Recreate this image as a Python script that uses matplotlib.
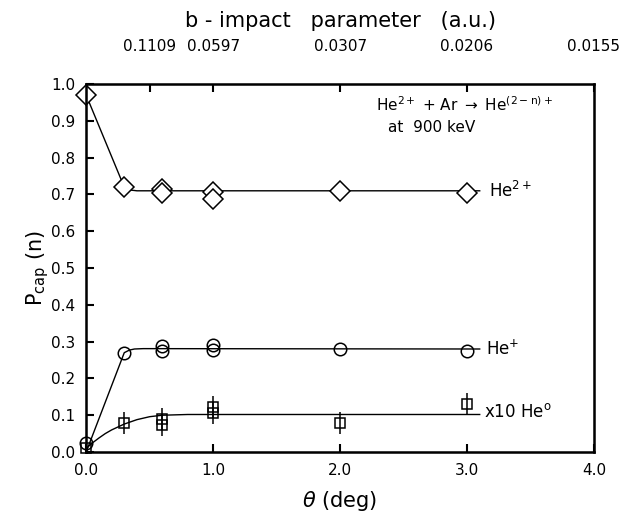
import numpy as np
import matplotlib.pyplot as plt

# measured points (theta in deg)
theta_he2 = [0.0, 0.3, 0.6, 0.6, 1.0, 1.0, 2.0, 3.0]
p_he2 = [0.97, 0.72, 0.716, 0.703, 0.708, 0.689, 0.71, 0.705]

theta_he1 = [0.0, 0.3, 0.6, 0.6, 1.0, 1.0, 2.0, 3.0]
p_he1 = [0.025, 0.27, 0.287, 0.274, 0.292, 0.278, 0.28, 0.275]

theta_he0 = [0.0, 0.3, 0.6, 0.6, 1.0, 1.0, 2.0, 3.0]
p_he0 = [0.01, 0.08, 0.09, 0.074, 0.122, 0.105, 0.08, 0.13]
err_he0 = [0.0, 0.03, 0.03, 0.03, 0.03, 0.03, 0.03, 0.03]

# hand drawn guide curves
fit_theta_he2 = [0.0, 0.3, 0.35, 0.4, 3.1]
fit_he2 = [0.97, 0.72, 0.712, 0.71, 0.71]
fit_theta_he1 = [0.0, 0.3, 0.34, 0.38, 0.45, 3.1]
fit_he1 = [0.0, 0.27, 0.277, 0.28, 0.281, 0.28]
fit_theta_he0 = [0.0, 0.05, 0.1, 0.15, 0.2, 0.3, 0.4, 0.5, 0.6, 0.8, 3.1]
fit_he0 = [0.01, 0.025, 0.038, 0.05, 0.06, 0.076, 0.088, 0.096, 0.1, 0.102, 0.102]

b_ticks = [0.5, 1.0, 2.0, 3.0, 4.0]
b_labels = ['0.1109', '0.0597', '0.0307', '0.0206', '0.0155']

fig = plt.figure(figsize=(6.2, 5.16), dpi=100)
ax = fig.add_axes([0.139, 0.124, 0.819, 0.713])

ax.plot(fit_theta_he2, fit_he2, color='black', lw=1)
ax.plot(fit_theta_he1, fit_he1, color='black', lw=1)
ax.plot(fit_theta_he0, fit_he0, color='black', lw=1)

ax.plot(theta_he2, p_he2, 'D', ms=10, mfc='white', mec='black', mew=1.1, clip_on=False)
ax.plot(theta_he1, p_he1, 'o', ms=9, mfc='none', mec='black', mew=1.1, clip_on=False)
ax.errorbar(theta_he0, p_he0, yerr=err_he0, fmt='s', ms=7, mfc='none', mec='black',
            mew=1.1, ecolor='black', elinewidth=1.1, capsize=0, clip_on=False)

ax.text(3.17, 0.71, r'He$^{2+}$', va='center', fontsize=12)
ax.text(3.15, 0.28, r'He$^{+}$', va='center', fontsize=12)
ax.text(3.13, 0.11, r'x10 He$^{\mathrm{o}}$', va='center', fontsize=12)
ax.text(2.98, 0.945, r'He$^{2+}$ + Ar $\rightarrow$ He$^{\mathrm{(2-n)+}}$', ha='center', va='center', fontsize=11)
ax.text(2.72, 0.882, 'at  900 keV', ha='center', va='center', fontsize=11)

ax.set_xlim(0, 4.0)
ax.set_ylim(0, 1.0)
ax.set_xticks([0, 1, 2, 3, 4])
ax.set_xticklabels(['0.0', '1.0', '2.0', '3.0', '4.0'])
ax.set_yticks(np.arange(0, 1.01, 0.1))
ax.set_yticklabels([f'{v:.1f}' for v in np.arange(0, 1.01, 0.1)])
ax.tick_params(direction='in', length=6, width=1.5, labelsize=11, pad=8)
ax.set_xlabel(r'$\theta$ (deg)', fontsize=15, labelpad=8)
ax.set_ylabel(r'P$_{\rm cap}$ (n)', fontsize=15, labelpad=0)
for s in ax.spines.values():
    s.set_linewidth(1.8)

top = ax.twiny()
top.set_xlim(0, 4.0)
top.set_xticks(b_ticks)
top.set_xticklabels(b_labels)
top.tick_params(direction='in', length=6, width=1.5, labelsize=11, pad=22)
top.set_xlabel('b - impact   parameter   (a.u.)', fontsize=15, labelpad=8)

fig.savefig('out.png', dpi=100)
